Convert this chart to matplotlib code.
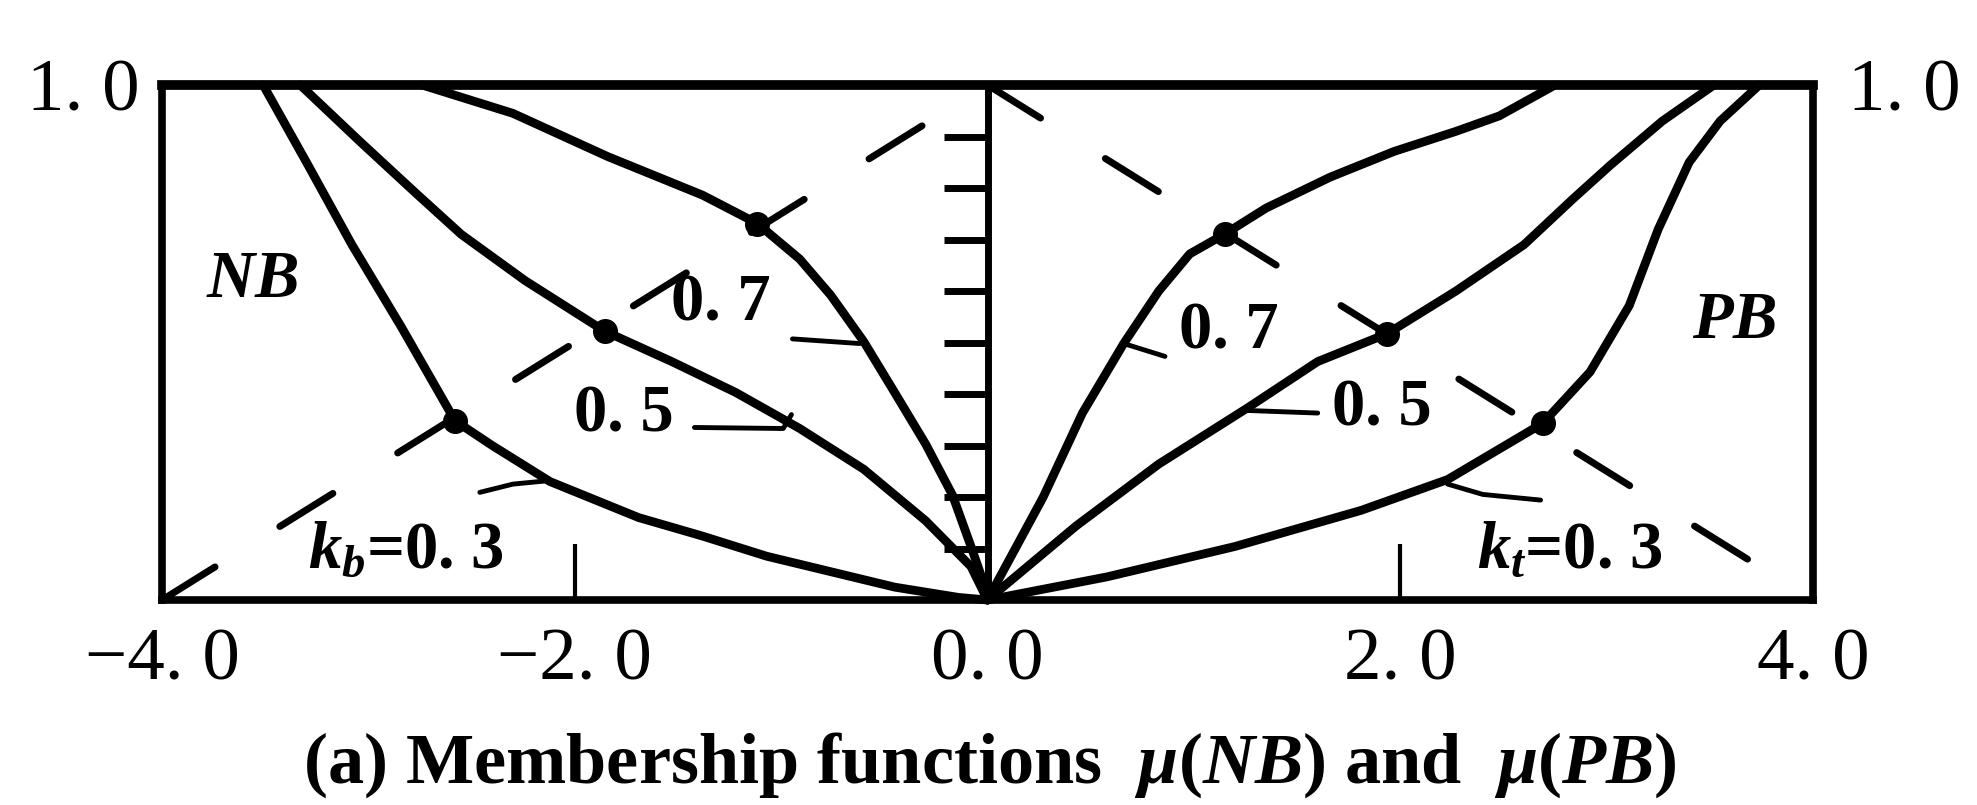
import matplotlib
matplotlib.use("Agg")
import matplotlib.pyplot as plt

plt.rcParams['font.family'] = ['Liberation Serif', 'DejaVu Serif']
plt.rcParams['mathtext.fontset'] = 'custom'
plt.rcParams['mathtext.rm'] = 'Liberation Serif:bold'
plt.rcParams['mathtext.it'] = 'Liberation Serif:italic:bold'
plt.rcParams['mathtext.bf'] = 'Liberation Serif:bold'
plt.rcParams['lines.scale_dashes'] = False

# mu(NB) for k = 0.3, 0.5, 0.7
nb03_x = [-3.51, -3.30, -3.08, -2.84, -2.58, -2.40, -2.12, -1.69, -1.38, -1.07, -0.76, -0.45, -0.14, 0.0]
nb03_y = [1.00, 0.85, 0.69, 0.53, 0.348, 0.30, 0.23, 0.16, 0.124, 0.085, 0.055, 0.025, 0.005, 0.0]
nb05_x = [-3.33, -3.04, -2.77, -2.55, -2.24, -1.855, -1.53, -1.22, -0.91, -0.60, -0.30, -0.08, 0.0]
nb05_y = [1.00, 0.89, 0.79, 0.71, 0.62, 0.522, 0.463, 0.403, 0.333, 0.254, 0.154, 0.065, 0.0]
nb07_x = [-2.74, -2.30, -1.84, -1.38, -1.115, -0.91, -0.76, -0.60, -0.45, -0.30, -0.17, -0.08, -0.02, 0.0]
nb07_y = [1.00, 0.945, 0.861, 0.786, 0.731, 0.662, 0.592, 0.502, 0.403, 0.303, 0.204, 0.104, 0.035, 0.0]

# mu(PB) for k = 0.3, 0.5, 0.7
pb07_x = [0.0, 0.27, 0.46, 0.66, 0.83, 0.98, 1.151, 1.35, 1.66, 1.97, 2.27, 2.48, 2.75]
pb07_y = [0.0, 0.20, 0.363, 0.498, 0.60, 0.672, 0.711, 0.761, 0.821, 0.871, 0.91, 0.94, 1.00]
pb05_x = [0.0, 0.43, 0.83, 1.26, 1.60, 1.936, 2.27, 2.60, 2.84, 3.02, 3.27, 3.52]
pb05_y = [0.0, 0.144, 0.264, 0.373, 0.463, 0.517, 0.60, 0.69, 0.78, 0.845, 0.93, 1.00]
pb03_x = [0.0, 0.58, 1.20, 1.81, 2.23, 2.69, 2.92, 3.11, 3.25, 3.40, 3.55, 3.74]
pb03_y = [0.0, 0.045, 0.104, 0.174, 0.234, 0.343, 0.443, 0.572, 0.72, 0.85, 0.93, 1.00]

# linear reference memberships (dashed)
ref_left_x = [-4.0, 0.0]
ref_left_y = [0.0, 1.0]
ref_right_x = [0.0, 4.0]
ref_right_y = [1.0, 0.0]

# crossing points of the curves with the dashed lines
cross_x = [-2.58, -1.855, -1.115, 1.151, 1.936, 2.69]
cross_y = [0.348, 0.522, 0.731, 0.711, 0.517, 0.343]

x_ticks = [-4.0, -2.0, 0.0, 2.0, 4.0]
x_tick_labels = ['\u22124. 0', '\u22122. 0', '0. 0', '2. 0', '4. 0']
y_ticks = [1.0]
y_tick_labels = ['1. 0']
center_ticks = [0.1, 0.2, 0.3, 0.4, 0.5, 0.6, 0.7, 0.8, 0.9]

fig = plt.figure(figsize=(19.77, 8.05), dpi=100)
ax = fig.add_axes([162 / 1977, 205 / 805, 1651 / 1977, 515 / 805])
ax.set_xlim(-4, 4)
ax.set_ylim(0, 1)

lw = 6.3
for xs, ys in [(nb03_x, nb03_y), (nb05_x, nb05_y), (nb07_x, nb07_y),
               (pb03_x, pb03_y), (pb05_x, pb05_y), (pb07_x, pb07_y)]:
    ax.plot(xs, ys, color='black', lw=lw, solid_capstyle='round',
            solid_joinstyle='round', clip_on=False)

for xs, ys in [(ref_left_x, ref_left_y), (ref_right_x, ref_right_y)]:
    ax.plot(xs, ys, color='black', lw=5, dashes=(45, 55), dash_capstyle='round')

ax.plot(cross_x, cross_y, 'o', ms=17, color='black', zorder=5)

# frame
for side in ['left', 'right', 'bottom']:
    ax.spines[side].set_linewidth(5.5)
ax.spines['top'].set_linewidth(7)

ax.set_xticks(x_ticks, labels=x_tick_labels)
ax.tick_params(axis='x', direction='in', length=40, width=3, pad=20,
               labelsize=54)
ax.set_yticks(y_ticks, labels=y_tick_labels)
ax.tick_params(axis='y', length=0, labelsize=54, pad=16,
               labelleft=True, labelright=False)

# right-hand value label
rsec = ax.secondary_yaxis('right')
rsec.set_yticks(y_ticks, labels=y_tick_labels)
rsec.tick_params(axis='y', length=0, labelsize=54, pad=25)
rsec.spines['right'].set_visible(False)

# centre axis with ticks pointing left
sec = ax.secondary_yaxis(0.5)
sec.set_alignment('left')
sec.set_yticks(center_ticks)
sec.tick_params(axis='y', direction='out', length=32, width=5, labelleft=False,
                labelright=False)
for side in ['left', 'right']:
    sec.spines[side].set_linewidth(5)

lab = dict(fontsize=48, fontweight='bold', ha='center', va='center')
ax.text(-3.56, 0.62, r'$NB$', **lab)
ax.text(3.62, 0.54, r'$PB$', **lab)
ax.text(-1.29, 0.575, '0. 7', **lab)
ax.text(-1.76, 0.36, '0. 5', **lab)
ax.text(-2.82, 0.095, r'$k_b$=0. 3', **lab)
ax.text(1.17, 0.52, '0. 7', **lab)
ax.text(1.91, 0.37, '0. 5', **lab)
ax.text(2.82, 0.095, r'$k_t$=0. 3', **lab)

# leader lines from labels to curves
lead = dict(color='black', lw=3.5, solid_capstyle='round')
ax.plot([-0.945, -0.62], [0.507, 0.498], **lead)
ax.plot([-1.42, -0.99, -0.95], [0.335, 0.333, 0.36], **lead)
ax.plot([-2.46, -2.30, -2.12], [0.209, 0.225, 0.232], **lead)
ax.plot([0.86, 0.66], [0.473, 0.498], **lead)
ax.plot([1.60, 1.26], [0.363, 0.368], **lead)
ax.plot([2.68, 2.40, 2.23], [0.194, 0.205, 0.225], **lead)

fig.text(990 / 1977, 1 - 765 / 805,
         r'(a) Membership functions  $\mu(NB)$ and  $\mu(PB)$',
         fontsize=52, fontweight='bold', ha='center', va='center')

fig.savefig('out.png', dpi=100, facecolor='white')
